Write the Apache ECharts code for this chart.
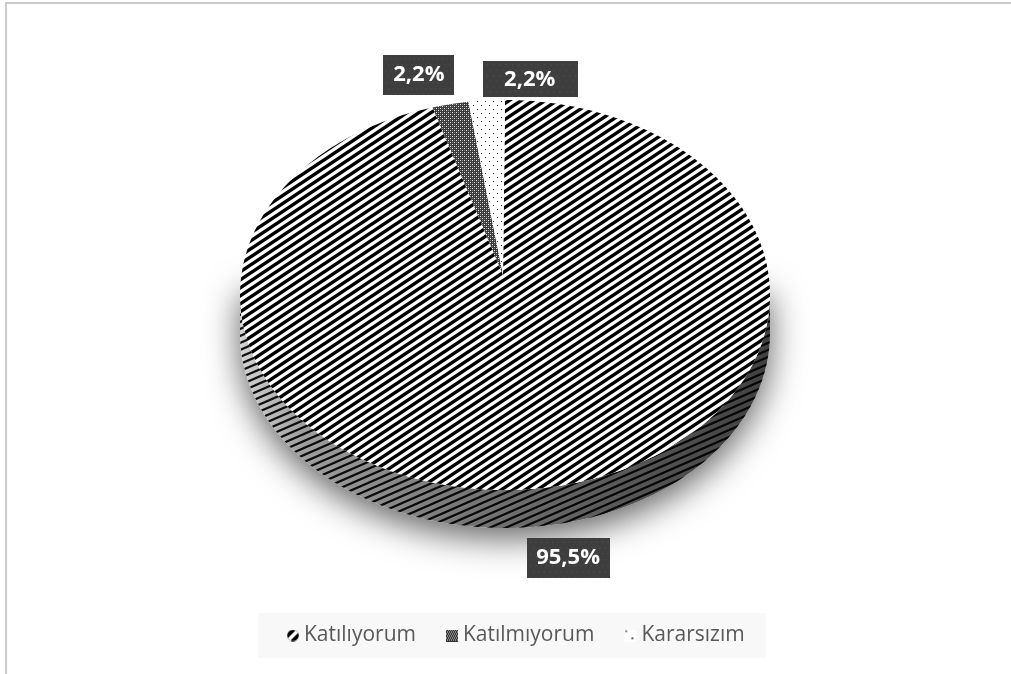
<!DOCTYPE html>
<html>
<head>
<meta charset="utf-8">
<script src="https://cdn.jsdelivr.net/npm/echarts@6/dist/echarts.min.js"></script>
<style>
  html, body { margin: 0; padding: 0; background: #fff; }
  #chart { width: 1011px; height: 674px; }
</style>
</head>
<body>
<div id="chart"></div>
<script>
// Survey answers and their shares (%)
const categories = ['Katılıyorum', 'Katılmıyorum', 'Kararsızım'];
const shares = [95.5, 2.2, 2.2];
const labelTexts = ['95,5%', '2,2%', '2,2%'];

// Layout of the tilted pie (top ellipse + visible front wall)
const PIE = { cx: 505, cy: 295, rx: 265, ry: 195, depth: 38, apexDy: -20 };
// Label box placement relative to each slice's outer mid point
const labelOffsets = [[27, 32], [-32, -29], [44, -21]];
const labelPaddings = [[9, 10, 9, 9], [9, 9, 9, 10], [7, 23, 7, 21]];

function makeCanvas(w, h, draw) {
  const c = document.createElement('canvas');
  c.width = w; c.height = h;
  draw(c.getContext('2d'), w, h);
  return c;
}

// Fill patterns
const stripeTop = makeCanvas(12, 8, (g, w, h) => {
  g.fillStyle = '#fff'; g.fillRect(0, 0, w, h);
  g.strokeStyle = '#000'; g.lineWidth = 3.4;
  for (let c = -8; c <= 24; c += 8) {
    g.beginPath(); g.moveTo(-6, c + 4); g.lineTo(18, c - 12); g.stroke();
  }
});
const stripeSide = makeCanvas(16, 7, (g, w, h) => {
  g.strokeStyle = 'rgba(0,0,0,0.92)'; g.lineWidth = 2.2;
  for (let c = -7; c <= 21; c += 7) {
    g.beginPath(); g.moveTo(-8, c + 3.5); g.lineTo(24, c - 10.5); g.stroke();
  }
});
const checker = makeCanvas(4, 4, (g) => {
  g.fillStyle = '#3a3a3a'; g.fillRect(0, 0, 4, 4);
  g.fillStyle = '#e8e8e8'; g.fillRect(0, 0, 1, 1); g.fillRect(2, 2, 1, 1);
  g.fillStyle = '#8a8a8a'; g.fillRect(2, 0, 1, 1); g.fillRect(0, 2, 1, 1);
});
const dotted = makeCanvas(8, 8, (g) => {
  g.fillStyle = '#fff'; g.fillRect(0, 0, 8, 8);
  g.fillStyle = '#333'; g.fillRect(1, 1, 1, 1); g.fillRect(5, 5, 1, 1);
});
const labelBg = makeCanvas(90, 40, (g, w, h) => {
  g.fillStyle = '#3e3e3e'; g.fillRect(0, 0, w, h);
  g.fillStyle = '#4d4d4d';
  for (let y = 3; y < h; y += 6) for (let x = (y % 12 === 3 ? 3 : 6); x < w; x += 6) g.fillRect(x, y, 1.5, 1.5);
});

const topFills = [
  { image: stripeTop, repeat: 'repeat' },
  { image: checker, repeat: 'repeat' },
  { image: dotted, repeat: 'repeat' }
];

// Legend icons
const iconUrls = [
  makeCanvas(12, 12, (g) => {
    g.save(); g.beginPath(); g.arc(6, 6, 5.8, 0, Math.PI * 2); g.clip();
    g.fillStyle = '#000'; g.fillRect(0, 0, 12, 12);
    g.strokeStyle = '#fff'; g.lineWidth = 3.5;
    g.beginPath(); g.moveTo(0, 12); g.lineTo(12, 0); g.stroke(); g.restore();
  }).toDataURL(),
  makeCanvas(12, 12, (g) => {
    g.fillStyle = '#333'; g.fillRect(0, 0, 12, 12);
    g.fillStyle = '#ddd';
    for (let y = 0; y < 12; y += 2) for (let x = (y % 4 === 0 ? 0 : 1); x < 12; x += 2) g.fillRect(x, y, 1, 1);
  }).toDataURL(),
  makeCanvas(12, 12, (g) => {
    g.fillStyle = '#fff'; g.fillRect(0, 0, 12, 12);
    g.fillStyle = '#222'; g.fillRect(1, 1, 1.5, 1.5); g.fillRect(7, 8, 2, 1.5);
  }).toDataURL()
];

const total = shares.reduce((a, b) => a + b, 0);
function pt(t, dy) {
  return [PIE.cx + PIE.rx * Math.sin(t), PIE.cy - PIE.ry * Math.cos(t) + (dy || 0)];
}
function arc(a0, a1, dy) {
  const n = Math.max(2, Math.ceil(Math.abs(a1 - a0) / (Math.PI / 180)));
  const pts = [];
  for (let k = 0; k <= n; k++) pts.push(pt(a0 + (a1 - a0) * k / n, dy));
  return pts;
}
const sideShade = {
  type: 'linear', x: PIE.cx - PIE.rx, y: 0, x2: PIE.cx + PIE.rx, y2: 0, global: true,
  colorStops: [
    { offset: 0, color: '#d4d4d4' },
    { offset: 0.12, color: '#9e9e9e' },
    { offset: 0.4, color: '#7a7a7a' },
    { offset: 0.7, color: '#5a5a5a' },
    { offset: 1, color: '#404040' }
  ]
};

function renderSlice(idx) {
  return function (params, api) {
    const before = shares.slice(0, idx).reduce((a, b) => a + b, 0);
    const value = api.value(0);
    const a0 = before / total * Math.PI * 2;
    const a1 = (before + value) / total * Math.PI * 2;
    const children = [];

    if (idx === 0) {
      // soft drop shadow under the front half of the pie
      const sil = [[PIE.cx + PIE.rx, PIE.cy - 10]].concat(arc(Math.PI / 2, Math.PI * 1.5, PIE.depth), [[PIE.cx - PIE.rx, PIE.cy - 10]]);
      children.push({
        type: 'polygon', shape: { points: sil },
        style: { fill: '#fff', shadowBlur: 34, shadowOffsetY: 10, shadowColor: 'rgba(0,0,0,0.62)' }
      });
    }

    // visible wall of the slice (front half only)
    const s0 = Math.max(a0, Math.PI / 2), s1 = Math.min(a1, Math.PI * 1.5);
    if (s1 > s0) {
      const wall = arc(s0, s1, 0).concat(arc(s1, s0, PIE.depth));
      children.push({ type: 'polygon', shape: { points: wall }, style: { fill: sideShade } });
      children.push({ type: 'polygon', shape: { points: wall }, style: { fill: { image: stripeSide, repeat: 'repeat' } } });
    }

    // top face
    const apex = [PIE.cx - 2, PIE.cy + PIE.apexDy];
    children.push({ type: 'polygon', shape: { points: [apex].concat(arc(a0, a1, 0)) }, style: { fill: topFills[idx] } });

    // value label
    const mid = (a0 + a1) / 2;
    const frontWall = Math.cos(mid) < 0 ? PIE.depth : 0;
    const anchor = pt(mid, frontWall);
    children.push({
      type: 'text',
      x: anchor[0] + labelOffsets[idx][0],
      y: anchor[1] + labelOffsets[idx][1],
      z2: 10,
      style: {
        text: labelTexts[idx],
        fill: '#fff',
        fontFamily: '"Open Sans", sans-serif',
        fontWeight: 'bold',
        fontSize: 22,
        lineHeight: 22,
        align: 'center',
        verticalAlign: 'middle',
        backgroundColor: { image: labelBg },
        padding: labelPaddings[idx],
        shadowBlur: 5,
        shadowOffsetX: 3,
        shadowOffsetY: 3,
        shadowColor: 'rgba(0,0,0,0.45)'
      }
    });
    return { type: 'group', children };
  };
}

const chart = echarts.init(document.getElementById('chart'), null, { renderer: 'canvas' });
chart.setOption({
  animation: false,
  backgroundColor: '#fff',
  graphic: [{
    type: 'rect', silent: true, z: 0,
    shape: { x: 6, y: 3, width: 1100, height: 800 },
    style: { fill: 'none', stroke: '#cbcbcb', lineWidth: 2 }
  }],
  legend: {
    left: 258,
    top: 613,
    backgroundColor: '#f8f8f8',
    padding: [10, 21, 10, 29],
    itemGap: 30,
    itemWidth: 12,
    itemHeight: 12,
    selectedMode: false,
    textStyle: { fontFamily: '"Open Sans", sans-serif', fontSize: 21, color: '#595959', lineHeight: 25 },
    data: categories.map((name, i) => ({ name, icon: 'image://' + iconUrls[i] }))
  },
  series: categories.map((name, i) => ({
    type: 'custom',
    name,
    coordinateSystem: 'none',
    silent: true,
    data: [[shares[i]]],
    renderItem: renderSlice(i)
  }))
});
</script>
</body>
</html>
